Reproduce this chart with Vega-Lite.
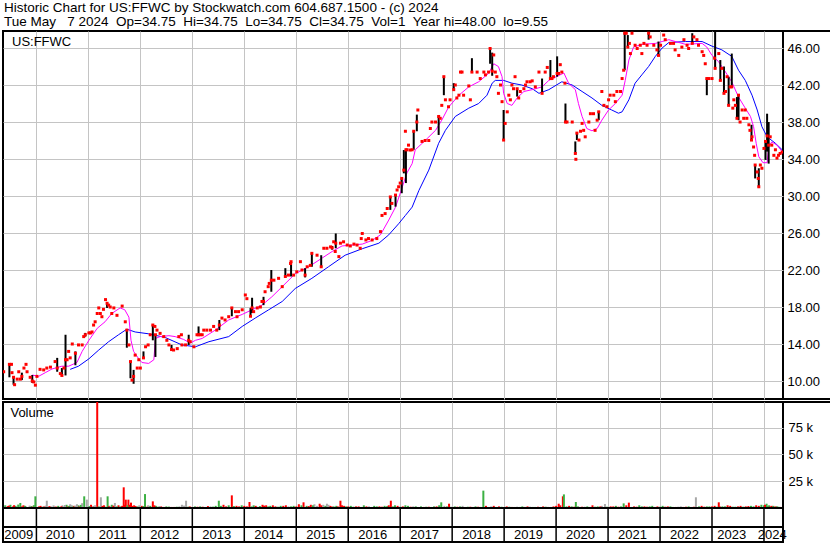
{
  "$schema": "https://vega.github.io/schema/vega-lite/v6.json",
  "background": "white",
  "padding": {"left": 1, "top": 0, "right": 0, "bottom": 0},
  "bounds": "flush",
  "title": {
    "text": "Historic Chart for US:FFWC by Stockwatch.com 604.687.1500 - (c) 2024",
    "subtitle": "Tue May\u00a0\u00a0 7 2024\u00a0 Op=34.75\u00a0 Hi=34.75\u00a0 Lo=34.75\u00a0 Cl=34.75\u00a0 Vol=1\u00a0 Year hi=48.00\u00a0 lo=9.55",
    "anchor": "start", "frame": "group", "font": "Liberation Sans", "fontSize": 13.5, "fontWeight": "normal", "color": "black",
    "subtitleFont": "Liberation Sans", "subtitleFontSize": 13.5, "subtitleColor": "black", "subtitlePadding": 0.5,
    "offset": 1, "dx": 1
  },
  "config": {
    "view": {"stroke": "black", "strokeWidth": 2},
    "font": "Liberation Sans",
    "axis": {"labelFont": "Liberation Sans", "labelFontSize": 13, "labelColor": "black", "gridColor": "#c4c4c4", "gridWidth": 1, "gridOpacity": 1, "ticks": false, "domain": false, "title": null, "minExtent": 0}
  },
  "datasets": {
    "px": [
      {"t":2009.37,"h":11.0,"l":11.0,"c":11.0},{"t":2009.48,"h":11.8,"l":10.4,"c":11.8},{"t":2009.52,"h":11.8,"l":11.8,"c":11.8},{"t":2009.53,"h":10.9,"l":10.9,"c":10.9},
      {"t":2009.56,"h":10.4,"l":9.6,"c":10.4},{"t":2009.58,"h":9.6,"l":9.6,"c":9.6},{"t":2009.63,"h":10.2,"l":10.2,"c":10.2},{"t":2009.66,"h":11.0,"l":11.0,"c":11.0},
      {"t":2009.69,"h":10.2,"l":10.2,"c":10.2},{"t":2009.72,"h":10.9,"l":10.1,"c":10.5},{"t":2009.76,"h":11.4,"l":11.4,"c":11.4},{"t":2009.80,"h":11.8,"l":11.8,"c":11.8},
      {"t":2009.82,"h":11.0,"l":11.0,"c":11.0},{"t":2009.88,"h":10.4,"l":10.4,"c":10.4},{"t":2009.92,"h":10.65,"l":9.8,"c":10.0},{"t":2009.95,"h":9.9,"l":9.9,"c":9.9},
      {"t":2009.98,"h":9.55,"l":9.55,"c":9.55},{"t":2010.01,"h":10.5,"l":10.5,"c":10.5},{"t":2010.07,"h":11.26,"l":11.26,"c":11.26},{"t":2010.14,"h":11.2,"l":11.2,"c":11.2},
      {"t":2010.20,"h":11.4,"l":11.4,"c":11.4},{"t":2010.27,"h":11.5,"l":11.5,"c":11.5},{"t":2010.36,"h":12.1,"l":12.1,"c":12.1},{"t":2010.40,"h":12.5,"l":11.0,"c":11.4},
      {"t":2010.46,"h":10.8,"l":10.8,"c":10.8},{"t":2010.49,"h":11.4,"l":10.6,"c":10.6},{"t":2010.53,"h":11.4,"l":11.4,"c":11.4},{"t":2010.56,"h":15.0,"l":10.6,"c":12.3},
      {"t":2010.59,"h":12.3,"l":12.3,"c":12.3},{"t":2010.62,"h":13.2,"l":13.2,"c":13.2},{"t":2010.65,"h":12.5,"l":12.5,"c":12.5},{"t":2010.69,"h":14.0,"l":14.0,"c":14.0},
      {"t":2010.75,"h":13.2,"l":11.7,"c":13.0},{"t":2010.81,"h":13.9,"l":13.9,"c":13.9},{"t":2010.88,"h":13.9,"l":13.9,"c":13.9},{"t":2010.91,"h":14.8,"l":14.8,"c":14.8},
      {"t":2010.94,"h":15.2,"l":14.8,"c":15.0},{"t":2011.01,"h":15.2,"l":15.2,"c":15.2},{"t":2011.04,"h":15.2,"l":15.2,"c":15.2},{"t":2011.07,"h":15.3,"l":15.3,"c":15.3},
      {"t":2011.10,"h":16.05,"l":16.05,"c":16.05},{"t":2011.13,"h":16.4,"l":16.4,"c":16.4},{"t":2011.17,"h":17.3,"l":17.3,"c":17.3},{"t":2011.20,"h":17.9,"l":17.9,"c":17.9},
      {"t":2011.23,"h":17.3,"l":17.3,"c":17.3},{"t":2011.26,"h":16.95,"l":16.95,"c":16.95},{"t":2011.29,"h":17.75,"l":17.75,"c":17.75},{"t":2011.33,"h":18.8,"l":18.8,"c":18.8},
      {"t":2011.36,"h":18.4,"l":17.9,"c":18.4},{"t":2011.39,"h":18.2,"l":18.2,"c":18.2},{"t":2011.42,"h":18.0,"l":18.0,"c":18.0},{"t":2011.45,"h":17.3,"l":17.3,"c":17.3},
      {"t":2011.49,"h":17.9,"l":17.9,"c":17.9},{"t":2011.55,"h":17.1,"l":17.1,"c":17.1},{"t":2011.65,"h":18.1,"l":18.1,"c":18.1},{"t":2011.71,"h":16.4,"l":16.4,"c":16.4},
      {"t":2011.74,"h":15.5,"l":13.6,"c":15.5},{"t":2011.78,"h":13.9,"l":13.9,"c":13.9},{"t":2011.81,"h":12.1,"l":10.3,"c":12.1},{"t":2011.84,"h":10.1,"l":10.1,"c":10.1},
      {"t":2011.87,"h":11.2,"l":9.7,"c":10.5},{"t":2011.90,"h":12.8,"l":12.8,"c":12.8},{"t":2011.94,"h":11.4,"l":11.4,"c":11.4},{"t":2011.97,"h":12.3,"l":12.3,"c":12.3},
      {"t":2012.00,"h":11.4,"l":11.4,"c":11.4},{"t":2012.06,"h":13.2,"l":12.5,"c":12.5},{"t":2012.10,"h":13.7,"l":13.7,"c":13.7},{"t":2012.15,"h":13.9,"l":13.9,"c":13.9},
      {"t":2012.19,"h":15.0,"l":15.0,"c":15.0},{"t":2012.24,"h":16.05,"l":14.4,"c":16.05},{"t":2012.28,"h":15.9,"l":15.9,"c":15.9},{"t":2012.29,"h":15.0,"l":12.6,"c":15.0},
      {"t":2012.32,"h":15.5,"l":15.5,"c":15.5},{"t":2012.38,"h":15.15,"l":15.15,"c":15.15},{"t":2012.45,"h":14.8,"l":14.8,"c":14.8},{"t":2012.51,"h":14.4,"l":14.4,"c":14.4},
      {"t":2012.55,"h":13.9,"l":13.9,"c":13.9},{"t":2012.60,"h":13.9,"l":13.4,"c":13.4},{"t":2012.64,"h":13.35,"l":13.35,"c":13.35},{"t":2012.71,"h":13.5,"l":13.5,"c":13.5},
      {"t":2012.74,"h":14.8,"l":14.8,"c":14.8},{"t":2012.79,"h":15.0,"l":15.0,"c":15.0},{"t":2012.80,"h":13.9,"l":13.9,"c":13.9},{"t":2012.87,"h":13.9,"l":13.9,"c":13.9},
      {"t":2012.93,"h":15.0,"l":13.9,"c":14.4},{"t":2012.96,"h":14.25,"l":14.25,"c":14.25},{"t":2013.03,"h":13.7,"l":13.7,"c":13.7},{"t":2013.09,"h":15.0,"l":15.0,"c":15.0},
      {"t":2013.12,"h":15.9,"l":15.0,"c":15.0},{"t":2013.15,"h":15.0,"l":15.0,"c":15.0},{"t":2013.19,"h":15.0,"l":15.0,"c":15.0},{"t":2013.22,"h":15.5,"l":15.5,"c":15.5},
      {"t":2013.28,"h":15.5,"l":15.5,"c":15.5},{"t":2013.35,"h":15.5,"l":15.5,"c":15.5},{"t":2013.41,"h":15.9,"l":15.9,"c":15.9},{"t":2013.47,"h":15.5,"l":15.5,"c":15.5},
      {"t":2013.52,"h":16.6,"l":15.5,"c":16.05},{"t":2013.57,"h":16.8,"l":16.8,"c":16.8},{"t":2013.63,"h":16.6,"l":16.6,"c":16.6},{"t":2013.70,"h":16.95,"l":16.95,"c":16.95},
      {"t":2013.76,"h":17.9,"l":17.0,"c":17.9},{"t":2013.83,"h":17.5,"l":17.5,"c":17.5},{"t":2013.86,"h":16.95,"l":16.95,"c":16.95},{"t":2013.89,"h":17.5,"l":17.5,"c":17.5},
      {"t":2013.96,"h":17.7,"l":17.7,"c":17.7},{"t":2014.02,"h":19.3,"l":19.3,"c":19.3},{"t":2014.05,"h":18.9,"l":18.9,"c":18.9},{"t":2014.12,"h":17.9,"l":17.0,"c":17.0},
      {"t":2014.15,"h":19.0,"l":17.35,"c":17.9},{"t":2014.18,"h":17.5,"l":17.5,"c":17.5},{"t":2014.25,"h":17.9,"l":17.9,"c":17.9},{"t":2014.31,"h":18.0,"l":18.0,"c":18.0},
      {"t":2014.34,"h":18.6,"l":18.6,"c":18.6},{"t":2014.37,"h":19.1,"l":18.2,"c":18.6},{"t":2014.40,"h":19.65,"l":19.65,"c":19.65},{"t":2014.46,"h":20.2,"l":20.2,"c":20.2},
      {"t":2014.48,"h":20.55,"l":20.55,"c":20.55},{"t":2014.52,"h":22.0,"l":19.65,"c":20.9},{"t":2014.57,"h":20.9,"l":20.9,"c":20.9},{"t":2014.66,"h":21.1,"l":21.1,"c":21.1},
      {"t":2014.73,"h":20.2,"l":20.2,"c":20.2},{"t":2014.79,"h":22.2,"l":21.3,"c":21.3},{"t":2014.85,"h":21.45,"l":21.45,"c":21.45},{"t":2014.89,"h":22.7,"l":22.7,"c":22.7},
      {"t":2014.90,"h":22.9,"l":21.3,"c":22.9},{"t":2014.95,"h":21.45,"l":21.45,"c":21.45},{"t":2015.01,"h":21.8,"l":21.8,"c":21.8},{"t":2015.08,"h":22.9,"l":22.9,"c":22.9},
      {"t":2015.11,"h":22.0,"l":22.0,"c":22.0},{"t":2015.17,"h":22.2,"l":21.2,"c":21.45},{"t":2015.21,"h":22.35,"l":22.35,"c":22.35},{"t":2015.27,"h":22.5,"l":22.5,"c":22.5},
      {"t":2015.30,"h":23.8,"l":22.35,"c":23.8},{"t":2015.40,"h":23.6,"l":23.6,"c":23.6},{"t":2015.48,"h":23.6,"l":22.35,"c":22.35},{"t":2015.53,"h":24.35,"l":24.35,"c":24.35},
      {"t":2015.59,"h":24.35,"l":24.35,"c":24.35},{"t":2015.66,"h":24.5,"l":24.5,"c":24.5},{"t":2015.69,"h":24.6,"l":24.2,"c":24.4},{"t":2015.72,"h":25.05,"l":25.05,"c":25.05},
      {"t":2015.75,"h":24.0,"l":24.0,"c":24.0},{"t":2015.76,"h":25.95,"l":24.35,"c":24.9},{"t":2015.82,"h":23.45,"l":23.45,"c":23.45},{"t":2015.85,"h":24.9,"l":24.9,"c":24.9},
      {"t":2015.91,"h":25.05,"l":25.05,"c":25.05},{"t":2015.98,"h":24.7,"l":24.7,"c":24.7},{"t":2016.04,"h":24.6,"l":24.6,"c":24.6},{"t":2016.11,"h":24.8,"l":24.8,"c":24.8},
      {"t":2016.17,"h":24.7,"l":24.7,"c":24.7},{"t":2016.23,"h":24.35,"l":24.35,"c":24.35},{"t":2016.25,"h":25.4,"l":25.4,"c":25.4},{"t":2016.27,"h":25.95,"l":25.95,"c":25.95},
      {"t":2016.34,"h":25.25,"l":25.25,"c":25.25},{"t":2016.39,"h":25.4,"l":25.4,"c":25.4},{"t":2016.46,"h":25.25,"l":25.25,"c":25.25},{"t":2016.55,"h":25.4,"l":25.4,"c":25.4},
      {"t":2016.62,"h":26.15,"l":26.15,"c":26.15},{"t":2016.65,"h":27.9,"l":27.9,"c":27.9},{"t":2016.71,"h":28.1,"l":28.1,"c":28.1},{"t":2016.75,"h":28.65,"l":28.65,"c":28.65},
      {"t":2016.81,"h":29.9,"l":28.5,"c":29.9},{"t":2016.84,"h":29.2,"l":29.2,"c":29.2},{"t":2016.91,"h":30.1,"l":28.85,"c":30.1},{"t":2016.94,"h":30.65,"l":30.65,"c":30.65},
      {"t":2016.97,"h":31.0,"l":31.0,"c":31.0},{"t":2017.00,"h":31.4,"l":31.4,"c":31.4},{"t":2017.03,"h":31.9,"l":30.3,"c":31.9},{"t":2017.07,"h":34.97,"l":32.45,"c":32.8},
      {"t":2017.10,"h":37.0,"l":37.0,"c":37.0},{"t":2017.11,"h":35.0,"l":31.4,"c":35.0},{"t":2017.13,"h":35.0,"l":35.0,"c":35.0},{"t":2017.16,"h":35.5,"l":35.5,"c":35.5},
      {"t":2017.19,"h":34.97,"l":34.97,"c":34.97},{"t":2017.23,"h":35.0,"l":35.0,"c":35.0},{"t":2017.26,"h":37.0,"l":35.0,"c":37.0},{"t":2017.32,"h":38.8,"l":37.0,"c":38.0},
      {"t":2017.34,"h":39.3,"l":39.3,"c":39.3},{"t":2017.42,"h":35.9,"l":35.9,"c":35.9},{"t":2017.48,"h":36.0,"l":36.0,"c":36.0},{"t":2017.55,"h":36.0,"l":36.0,"c":36.0},
      {"t":2017.58,"h":37.3,"l":37.3,"c":37.3},{"t":2017.61,"h":38.0,"l":38.0,"c":38.0},{"t":2017.68,"h":38.0,"l":38.0,"c":38.0},{"t":2017.74,"h":38.6,"l":36.6,"c":38.6},
      {"t":2017.77,"h":38.4,"l":38.4,"c":38.4},{"t":2017.80,"h":39.8,"l":39.8,"c":39.8},{"t":2017.84,"h":42.9,"l":40.9,"c":42.9},{"t":2017.87,"h":40.4,"l":40.4,"c":40.4},
      {"t":2017.93,"h":39.65,"l":39.65,"c":39.65},{"t":2017.96,"h":40.4,"l":40.4,"c":40.4},{"t":2018.03,"h":42.2,"l":41.5,"c":41.5},{"t":2018.06,"h":42.0,"l":42.0,"c":42.0},
      {"t":2018.09,"h":40.6,"l":40.6,"c":40.6},{"t":2018.13,"h":40.9,"l":40.9,"c":40.9},{"t":2018.16,"h":43.4,"l":43.4,"c":43.4},{"t":2018.19,"h":43.4,"l":43.4,"c":43.4},
      {"t":2018.22,"h":40.9,"l":40.9,"c":40.9},{"t":2018.32,"h":41.9,"l":41.9,"c":41.9},{"t":2018.35,"h":40.4,"l":40.4,"c":40.4},{"t":2018.38,"h":44.9,"l":43.4,"c":43.4},
      {"t":2018.48,"h":43.4,"l":43.4,"c":43.4},{"t":2018.54,"h":42.7,"l":42.7,"c":42.7},{"t":2018.61,"h":43.4,"l":43.4,"c":43.4},{"t":2018.64,"h":43.1,"l":43.1,"c":43.1},
      {"t":2018.70,"h":43.4,"l":43.4,"c":43.4},{"t":2018.73,"h":45.95,"l":44.3,"c":45.95},{"t":2018.77,"h":45.5,"l":43.0,"c":43.5},{"t":2018.80,"h":45.25,"l":45.25,"c":45.25},
      {"t":2018.83,"h":43.4,"l":43.4,"c":43.4},{"t":2018.86,"h":42.9,"l":42.9,"c":42.9},{"t":2018.89,"h":41.1,"l":41.1,"c":41.1},{"t":2018.93,"h":42.0,"l":42.0,"c":42.0},
      {"t":2018.96,"h":40.2,"l":40.2,"c":40.2},{"t":2018.99,"h":39.3,"l":36.05,"c":36.05},{"t":2019.02,"h":37.85,"l":37.85,"c":37.85},{"t":2019.06,"h":39.1,"l":39.1,"c":39.1},
      {"t":2019.09,"h":40.9,"l":40.9,"c":40.9},{"t":2019.12,"h":40.4,"l":40.4,"c":40.4},{"t":2019.15,"h":42.0,"l":42.0,"c":42.0},{"t":2019.18,"h":41.6,"l":41.6,"c":41.6},
      {"t":2019.21,"h":42.9,"l":42.9,"c":42.9},{"t":2019.25,"h":41.6,"l":40.75,"c":41.6},{"t":2019.28,"h":40.6,"l":40.6,"c":40.6},{"t":2019.31,"h":41.3,"l":41.3,"c":41.3},
      {"t":2019.38,"h":41.6,"l":41.6,"c":41.6},{"t":2019.41,"h":42.0,"l":42.0,"c":42.0},{"t":2019.44,"h":42.35,"l":42.35,"c":42.35},{"t":2019.50,"h":42.35,"l":42.35,"c":42.35},
      {"t":2019.54,"h":42.45,"l":42.45,"c":42.45},{"t":2019.60,"h":41.8,"l":41.8,"c":41.8},{"t":2019.67,"h":43.4,"l":43.4,"c":43.4},{"t":2019.73,"h":42.7,"l":41.1,"c":41.1},
      {"t":2019.79,"h":43.4,"l":43.4,"c":43.4},{"t":2019.83,"h":43.9,"l":43.9,"c":43.9},{"t":2019.89,"h":44.7,"l":42.7,"c":42.7},{"t":2019.92,"h":42.7,"l":42.7,"c":42.7},
      {"t":2019.95,"h":42.9,"l":42.9,"c":42.9},{"t":2020.02,"h":45.1,"l":42.9,"c":43.25},{"t":2020.05,"h":43.25,"l":43.25,"c":43.25},{"t":2020.08,"h":44.2,"l":44.2,"c":44.2},
      {"t":2020.11,"h":43.4,"l":43.4,"c":43.4},{"t":2020.17,"h":42.2,"l":42.2,"c":42.2},{"t":2020.18,"h":40.0,"l":38.0,"c":38.0},{"t":2020.21,"h":38.0,"l":38.0,"c":38.0},
      {"t":2020.31,"h":38.0,"l":38.0,"c":38.0},{"t":2020.37,"h":35.9,"l":34.6,"c":34.6},{"t":2020.38,"h":33.97,"l":33.97,"c":33.97},{"t":2020.40,"h":36.8,"l":36.05,"c":36.8},
      {"t":2020.44,"h":36.05,"l":36.05,"c":36.05},{"t":2020.47,"h":37.0,"l":37.0,"c":37.0},{"t":2020.50,"h":37.85,"l":37.85,"c":37.85},{"t":2020.53,"h":37.1,"l":37.1,"c":37.1},
      {"t":2020.56,"h":36.4,"l":36.4,"c":36.4},{"t":2020.63,"h":38.0,"l":38.0,"c":38.0},{"t":2020.66,"h":38.9,"l":38.9,"c":38.9},{"t":2020.72,"h":38.9,"l":38.9,"c":38.9},
      {"t":2020.75,"h":37.1,"l":37.1,"c":37.1},{"t":2020.79,"h":38.2,"l":38.2,"c":38.2},{"t":2020.82,"h":39.1,"l":38.2,"c":39.1},{"t":2020.88,"h":41.3,"l":41.3,"c":41.3},
      {"t":2020.92,"h":39.8,"l":39.8,"c":39.8},{"t":2020.98,"h":39.65,"l":39.65,"c":39.65},{"t":2021.01,"h":40.4,"l":40.4,"c":40.4},{"t":2021.04,"h":40.9,"l":40.9,"c":40.9},
      {"t":2021.11,"h":40.9,"l":40.9,"c":40.9},{"t":2021.14,"h":40.2,"l":40.2,"c":40.2},{"t":2021.17,"h":41.3,"l":41.3,"c":41.3},{"t":2021.24,"h":41.3,"l":41.3,"c":41.3},
      {"t":2021.27,"h":42.7,"l":42.7,"c":42.7},{"t":2021.30,"h":43.6,"l":43.6,"c":43.6},{"t":2021.32,"h":47.6,"l":43.6,"c":47.6},{"t":2021.35,"h":47.6,"l":47.6,"c":47.6},
      {"t":2021.38,"h":47.4,"l":46.1,"c":46.1},{"t":2021.41,"h":46.5,"l":46.5,"c":46.5},{"t":2021.43,"h":45.4,"l":45.4,"c":45.4},{"t":2021.46,"h":47.6,"l":47.6,"c":47.6},
      {"t":2021.52,"h":46.3,"l":46.3,"c":46.3},{"t":2021.56,"h":45.95,"l":45.95,"c":45.95},{"t":2021.62,"h":46.3,"l":46.3,"c":46.3},{"t":2021.65,"h":45.4,"l":45.4,"c":45.4},
      {"t":2021.69,"h":46.5,"l":46.5,"c":46.5},{"t":2021.75,"h":46.3,"l":46.3,"c":46.3},{"t":2021.78,"h":47.6,"l":46.9,"c":47.6},{"t":2021.81,"h":47.2,"l":47.2,"c":47.2},
      {"t":2021.88,"h":46.3,"l":46.3,"c":46.3},{"t":2021.94,"h":45.8,"l":45.8,"c":45.8},{"t":2021.97,"h":46.7,"l":45.2,"c":45.2},{"t":2022.01,"h":46.3,"l":46.3,"c":46.3},
      {"t":2022.07,"h":47.4,"l":47.4,"c":47.4},{"t":2022.10,"h":46.9,"l":46.9,"c":46.9},{"t":2022.20,"h":46.5,"l":46.5,"c":46.5},{"t":2022.26,"h":46.5,"l":46.5,"c":46.5},
      {"t":2022.29,"h":45.8,"l":45.8,"c":45.8},{"t":2022.36,"h":45.2,"l":45.2,"c":45.2},{"t":2022.42,"h":46.1,"l":46.1,"c":46.1},{"t":2022.46,"h":46.9,"l":46.9,"c":46.9},
      {"t":2022.52,"h":46.3,"l":46.3,"c":46.3},{"t":2022.55,"h":45.95,"l":45.95,"c":45.95},{"t":2022.62,"h":47.6,"l":46.5,"c":46.5},{"t":2022.65,"h":47.2,"l":47.2,"c":47.2},
      {"t":2022.71,"h":46.9,"l":46.9,"c":46.9},{"t":2022.74,"h":46.3,"l":46.3,"c":46.3},{"t":2022.81,"h":45.6,"l":45.6,"c":45.6},{"t":2022.84,"h":45.2,"l":45.2,"c":45.2},
      {"t":2022.87,"h":44.3,"l":44.3,"c":44.3},{"t":2022.90,"h":42.7,"l":40.9,"c":42.7},{"t":2022.94,"h":42.7,"l":42.7,"c":42.7},{"t":2023.00,"h":42.7,"l":42.7,"c":42.7},
      {"t":2023.05,"h":44.9,"l":44.9,"c":44.9},{"t":2023.06,"h":48.0,"l":43.8,"c":43.8},{"t":2023.13,"h":45.4,"l":45.4,"c":45.4},{"t":2023.16,"h":44.7,"l":42.5,"c":42.5},
      {"t":2023.19,"h":43.8,"l":43.8,"c":43.8},{"t":2023.23,"h":44.0,"l":41.1,"c":41.1},{"t":2023.26,"h":41.3,"l":41.3,"c":41.3},{"t":2023.29,"h":42.9,"l":42.9,"c":42.9},
      {"t":2023.32,"h":42.9,"l":39.8,"c":39.8},{"t":2023.35,"h":41.8,"l":41.8,"c":41.8},{"t":2023.38,"h":45.4,"l":41.8,"c":41.8},{"t":2023.40,"h":39.5,"l":39.5,"c":39.5},
      {"t":2023.42,"h":40.4,"l":40.4,"c":40.4},{"t":2023.45,"h":39.8,"l":39.8,"c":39.8},{"t":2023.48,"h":40.7,"l":38.4,"c":38.4},{"t":2023.51,"h":40.9,"l":38.2,"c":40.9},
      {"t":2023.54,"h":38.0,"l":38.0,"c":38.0},{"t":2023.58,"h":39.3,"l":39.3,"c":39.3},{"t":2023.61,"h":38.4,"l":38.4,"c":38.4},{"t":2023.64,"h":39.3,"l":39.3,"c":39.3},
      {"t":2023.67,"h":38.4,"l":38.4,"c":38.4},{"t":2023.71,"h":37.7,"l":37.7,"c":37.7},{"t":2023.73,"h":37.1,"l":37.1,"c":37.1},{"t":2023.76,"h":37.7,"l":36.05,"c":36.05},
      {"t":2023.77,"h":36.4,"l":36.4,"c":36.4},{"t":2023.80,"h":35.3,"l":35.3,"c":35.3},{"t":2023.82,"h":34.4,"l":34.4,"c":34.4},{"t":2023.83,"h":33.35,"l":31.9,"c":33.35},
      {"t":2023.87,"h":32.6,"l":32.6,"c":32.6},{"t":2023.89,"h":31.9,"l":31.9,"c":31.9},{"t":2023.90,"h":33.0,"l":31.0,"c":31.0},{"t":2023.93,"h":33.35,"l":33.35,"c":33.35},
      {"t":2023.96,"h":33.0,"l":33.0,"c":33.0},{"t":2024.00,"h":35.15,"l":35.15,"c":35.15},{"t":2024.03,"h":36.05,"l":33.9,"c":35.9},{"t":2024.06,"h":38.9,"l":34.8,"c":36.5},
      {"t":2024.09,"h":38.0,"l":33.5,"c":35.5},{"t":2024.12,"h":36.4,"l":36.4,"c":36.4},{"t":2024.15,"h":35.5,"l":35.5,"c":35.5},{"t":2024.19,"h":34.4,"l":34.4,"c":34.4},
      {"t":2024.22,"h":35.0,"l":35.0,"c":35.0},{"t":2024.25,"h":34.1,"l":34.1,"c":34.1},{"t":2024.28,"h":34.4,"l":34.4,"c":34.4},{"t":2024.31,"h":34.6,"l":34.6,"c":34.6},
      {"t":2024.35,"h":34.75,"l":34.75,"c":34.75}
    ],
    "maFast": [
      {"t":2009.92,"v":10.65},{"t":2010.04,"v":10.5},{"t":2010.17,"v":10.9},{"t":2010.30,"v":11.3},{"t":2010.49,"v":11.6},{"t":2010.62,"v":11.6},
      {"t":2010.78,"v":12.0},{"t":2010.88,"v":13.2},{"t":2011.01,"v":14.4},{"t":2011.17,"v":15.7},{"t":2011.32,"v":16.4},{"t":2011.45,"v":17.3},
      {"t":2011.61,"v":17.9},{"t":2011.70,"v":17.7},{"t":2011.78,"v":16.9},{"t":2011.82,"v":14.4},{"t":2011.87,"v":13.2},{"t":2011.97,"v":12.4},
      {"t":2012.03,"v":12.0},{"t":2012.16,"v":11.9},{"t":2012.26,"v":12.3},{"t":2012.29,"v":14.6},{"t":2012.38,"v":14.8},{"t":2012.55,"v":14.9},
      {"t":2012.67,"v":14.8},{"t":2012.83,"v":14.5},{"t":2012.96,"v":14.1},{"t":2013.06,"v":14.4},{"t":2013.19,"v":14.6},{"t":2013.44,"v":15.5},
      {"t":2013.70,"v":16.6},{"t":2013.96,"v":17.2},{"t":2014.15,"v":17.7},{"t":2014.34,"v":18.2},{"t":2014.53,"v":19.1},{"t":2014.73,"v":20.2},
      {"t":2014.98,"v":21.6},{"t":2015.24,"v":22.35},{"t":2015.50,"v":23.3},{"t":2015.69,"v":24.0},{"t":2015.88,"v":24.6},{"t":2016.07,"v":24.7},
      {"t":2016.27,"v":24.8},{"t":2016.46,"v":25.2},{"t":2016.62,"v":25.8},{"t":2016.78,"v":27.4},{"t":2016.91,"v":28.8},{"t":2017.03,"v":30.8},
      {"t":2017.13,"v":32.5},{"t":2017.23,"v":33.5},{"t":2017.29,"v":35.0},{"t":2017.48,"v":36.0},{"t":2017.68,"v":37.1},{"t":2017.80,"v":38.2},
      {"t":2017.93,"v":39.6},{"t":2018.13,"v":40.9},{"t":2018.32,"v":41.8},{"t":2018.51,"v":42.35},{"t":2018.70,"v":43.25},{"t":2018.80,"v":44.3},
      {"t":2018.89,"v":44.0},{"t":2018.96,"v":42.9},{"t":2018.99,"v":41.1},{"t":2019.06,"v":40.0},{"t":2019.15,"v":39.8},{"t":2019.25,"v":40.6},
      {"t":2019.38,"v":41.3},{"t":2019.54,"v":41.5},{"t":2019.73,"v":41.8},{"t":2019.86,"v":42.5},{"t":2020.15,"v":43.3},{"t":2020.24,"v":42.2},
      {"t":2020.37,"v":41.5},{"t":2020.43,"v":40.0},{"t":2020.50,"v":38.6},{"t":2020.59,"v":37.3},{"t":2020.69,"v":37.05},{"t":2020.79,"v":37.3},
      {"t":2020.88,"v":38.2},{"t":2021.01,"v":39.3},{"t":2021.14,"v":40.0},{"t":2021.27,"v":40.9},{"t":2021.33,"v":42.5},{"t":2021.40,"v":44.7},
      {"t":2021.49,"v":46.1},{"t":2021.65,"v":46.4},{"t":2021.91,"v":46.5},{"t":2022.04,"v":46.7},{"t":2022.17,"v":46.9},{"t":2022.49,"v":46.4},
      {"t":2022.81,"v":46.5},{"t":2022.90,"v":46.1},{"t":2023.00,"v":45.2},{"t":2023.13,"v":44.5},{"t":2023.26,"v":43.4},{"t":2023.38,"v":42.35},
      {"t":2023.51,"v":40.7},{"t":2023.64,"v":39.5},{"t":2023.74,"v":38.6},{"t":2023.80,"v":37.5},{"t":2023.85,"v":35.7},{"t":2023.90,"v":34.25},
      {"t":2023.98,"v":33.6},{"t":2024.06,"v":33.6},{"t":2024.09,"v":35.3},{"t":2024.15,"v":35.85},{"t":2024.25,"v":35.5},{"t":2024.35,"v":34.8}
    ],
    "maSlow": [
      {"t":2010.65,"v":11.26},{"t":2010.81,"v":11.6},{"t":2011.01,"v":12.4},{"t":2011.20,"v":13.35},{"t":2011.39,"v":14.25},{"t":2011.58,"v":15.0},
      {"t":2011.74,"v":15.6},{"t":2011.90,"v":15.3},{"t":2012.16,"v":15.1},{"t":2012.48,"v":14.7},{"t":2012.80,"v":13.9},{"t":2013.06,"v":13.7},
      {"t":2013.32,"v":14.25},{"t":2013.70,"v":14.8},{"t":2013.96,"v":15.9},{"t":2014.21,"v":16.8},{"t":2014.47,"v":17.7},{"t":2014.73,"v":18.6},
      {"t":2014.98,"v":20.0},{"t":2015.30,"v":21.1},{"t":2015.62,"v":22.35},{"t":2015.94,"v":23.6},{"t":2016.27,"v":24.3},{"t":2016.59,"v":24.9},
      {"t":2016.78,"v":25.8},{"t":2016.97,"v":27.0},{"t":2017.10,"v":27.9},{"t":2017.23,"v":28.8},{"t":2017.36,"v":30.6},{"t":2017.55,"v":32.8},
      {"t":2017.74,"v":35.7},{"t":2017.87,"v":37.1},{"t":2018.06,"v":38.6},{"t":2018.32,"v":39.5},{"t":2018.51,"v":40.0},{"t":2018.67,"v":40.9},
      {"t":2018.77,"v":42.2},{"t":2018.83,"v":42.5},{"t":2018.99,"v":42.5},{"t":2019.15,"v":42.2},{"t":2019.34,"v":42.0},{"t":2019.54,"v":41.6},
      {"t":2019.67,"v":41.1},{"t":2019.86,"v":41.5},{"t":2020.11,"v":42.35},{"t":2020.31,"v":42.0},{"t":2020.50,"v":41.3},{"t":2020.69,"v":40.6},
      {"t":2020.88,"v":39.8},{"t":2021.07,"v":39.3},{"t":2021.20,"v":38.95},{"t":2021.27,"v":39.1},{"t":2021.40,"v":40.4},{"t":2021.52,"v":42.2},
      {"t":2021.65,"v":43.1},{"t":2021.78,"v":44.0},{"t":2021.91,"v":45.1},{"t":2022.04,"v":46.0},{"t":2022.17,"v":46.6},{"t":2022.49,"v":46.7},
      {"t":2022.81,"v":46.7},{"t":2023.00,"v":46.2},{"t":2023.19,"v":45.8},{"t":2023.38,"v":45.1},{"t":2023.51,"v":43.6},{"t":2023.64,"v":42.5},
      {"t":2023.77,"v":40.9},{"t":2023.87,"v":39.3},{"t":2023.96,"v":37.5},{"t":2024.06,"v":36.4},{"t":2024.22,"v":35.7},{"t":2024.35,"v":35.0}
    ],
    "vol": [
      {"t":2009.40,"v":2500,"dir":"up"},{"t":2009.45,"v":1800,"dir":"down"},{"t":2009.50,"v":3000,"dir":"up"},{"t":2009.55,"v":1500,"dir":"down"},
      {"t":2009.60,"v":2000,"dir":"up"},{"t":2009.69,"v":4700,"dir":"up"},{"t":2009.75,"v":2500,"dir":"down"},{"t":2009.80,"v":1500,"dir":"flat"},
      {"t":2009.85,"v":1000,"dir":"down"},{"t":2009.90,"v":1800,"dir":"up"},{"t":2009.98,"v":10900,"dir":"up"},{"t":2010.05,"v":1500,"dir":"down"},
      {"t":2010.12,"v":1200,"dir":"up"},{"t":2010.20,"v":6800,"dir":"flat"},{"t":2010.28,"v":1500,"dir":"flat"},{"t":2010.35,"v":1200,"dir":"down"},
      {"t":2010.42,"v":2000,"dir":"up"},{"t":2010.50,"v":2500,"dir":"flat"},{"t":2010.58,"v":3000,"dir":"up"},{"t":2010.65,"v":3500,"dir":"flat"},
      {"t":2010.72,"v":2000,"dir":"down"},{"t":2010.80,"v":2500,"dir":"up"},{"t":2010.88,"v":4500,"dir":"flat"},{"t":2010.92,"v":10900,"dir":"up"},
      {"t":2010.97,"v":7800,"dir":"flat"},{"t":2011.05,"v":3000,"dir":"down"},{"t":2011.10,"v":2000,"dir":"flat"},{"t":2011.17,"v":105000,"dir":"down"},
      {"t":2011.24,"v":10000,"dir":"flat"},{"t":2011.30,"v":2500,"dir":"down"},{"t":2011.37,"v":10900,"dir":"up"},{"t":2011.45,"v":3000,"dir":"up"},
      {"t":2011.51,"v":4700,"dir":"flat"},{"t":2011.58,"v":2500,"dir":"down"},{"t":2011.62,"v":1500,"dir":"up"},{"t":2011.68,"v":19300,"dir":"down"},
      {"t":2011.72,"v":7800,"dir":"down"},{"t":2011.77,"v":7800,"dir":"down"},{"t":2011.82,"v":5000,"dir":"down"},{"t":2011.88,"v":2500,"dir":"down"},
      {"t":2011.95,"v":1500,"dir":"up"},{"t":2012.03,"v":2000,"dir":"down"},{"t":2012.09,"v":13000,"dir":"up"},{"t":2012.15,"v":2500,"dir":"flat"},
      {"t":2012.24,"v":6200,"dir":"down"},{"t":2012.30,"v":2000,"dir":"up"},{"t":2012.40,"v":1500,"dir":"down"},{"t":2012.50,"v":1500,"dir":"up"},
      {"t":2012.60,"v":1000,"dir":"down"},{"t":2012.70,"v":1200,"dir":"up"},{"t":2012.80,"v":3000,"dir":"flat"},{"t":2012.88,"v":6800,"dir":"flat"},
      {"t":2012.95,"v":1500,"dir":"down"},{"t":2013.05,"v":1500,"dir":"up"},{"t":2013.20,"v":1200,"dir":"down"},{"t":2013.35,"v":1500,"dir":"flat"},
      {"t":2013.45,"v":2000,"dir":"up"},{"t":2013.51,"v":6800,"dir":"up"},{"t":2013.60,"v":3000,"dir":"down"},{"t":2013.70,"v":2500,"dir":"up"},
      {"t":2013.76,"v":11800,"dir":"down"},{"t":2013.85,"v":2000,"dir":"down"},{"t":2013.95,"v":2500,"dir":"up"},{"t":2014.05,"v":1500,"dir":"down"},
      {"t":2014.10,"v":5600,"dir":"down"},{"t":2014.18,"v":2500,"dir":"up"},{"t":2014.25,"v":1200,"dir":"flat"},{"t":2014.35,"v":3000,"dir":"down"},
      {"t":2014.42,"v":2500,"dir":"down"},{"t":2014.50,"v":2000,"dir":"up"},{"t":2014.60,"v":1500,"dir":"down"},{"t":2014.70,"v":2000,"dir":"up"},
      {"t":2014.80,"v":2500,"dir":"down"},{"t":2014.90,"v":1500,"dir":"up"},{"t":2015.05,"v":3500,"dir":"down"},{"t":2015.14,"v":5300,"dir":"down"},
      {"t":2015.20,"v":2000,"dir":"up"},{"t":2015.28,"v":3000,"dir":"down"},{"t":2015.35,"v":3500,"dir":"flat"},{"t":2015.45,"v":4000,"dir":"down"},
      {"t":2015.52,"v":3000,"dir":"flat"},{"t":2015.59,"v":4000,"dir":"flat"},{"t":2015.65,"v":2000,"dir":"down"},{"t":2015.72,"v":1500,"dir":"up"},
      {"t":2015.85,"v":6800,"dir":"down"},{"t":2015.92,"v":2000,"dir":"down"},{"t":2016.05,"v":2000,"dir":"up"},{"t":2016.15,"v":1500,"dir":"down"},
      {"t":2016.30,"v":2500,"dir":"up"},{"t":2016.40,"v":1500,"dir":"flat"},{"t":2016.50,"v":2000,"dir":"up"},{"t":2016.60,"v":1500,"dir":"down"},
      {"t":2016.70,"v":2000,"dir":"up"},{"t":2016.82,"v":6800,"dir":"down"},{"t":2016.90,"v":2500,"dir":"up"},{"t":2017.05,"v":1500,"dir":"down"},
      {"t":2017.15,"v":2000,"dir":"up"},{"t":2017.25,"v":1500,"dir":"flat"},{"t":2017.40,"v":1500,"dir":"up"},{"t":2017.55,"v":1200,"dir":"down"},
      {"t":2017.65,"v":1500,"dir":"up"},{"t":2017.79,"v":5300,"dir":"up"},{"t":2017.85,"v":2000,"dir":"flat"},{"t":2017.94,"v":4000,"dir":"down"},
      {"t":2018.05,"v":1500,"dir":"up"},{"t":2018.20,"v":2000,"dir":"flat"},{"t":2018.35,"v":1200,"dir":"down"},{"t":2018.45,"v":1500,"dir":"up"},
      {"t":2018.60,"v":16200,"dir":"up"},{"t":2018.70,"v":1000,"dir":"flat"},{"t":2018.80,"v":2000,"dir":"down"},{"t":2018.95,"v":1200,"dir":"up"},
      {"t":2019.05,"v":1500,"dir":"down"},{"t":2019.20,"v":1000,"dir":"flat"},{"t":2019.35,"v":1500,"dir":"up"},{"t":2019.45,"v":1500,"dir":"down"},
      {"t":2019.60,"v":1000,"dir":"up"},{"t":2019.75,"v":1500,"dir":"down"},{"t":2019.90,"v":1000,"dir":"flat"},{"t":2020.05,"v":4000,"dir":"down"},
      {"t":2020.13,"v":10900,"dir":"down"},{"t":2020.15,"v":12700,"dir":"up"},{"t":2020.25,"v":2000,"dir":"down"},{"t":2020.30,"v":1500,"dir":"up"},
      {"t":2020.38,"v":5600,"dir":"up"},{"t":2020.50,"v":1200,"dir":"down"},{"t":2020.60,"v":1500,"dir":"up"},{"t":2020.70,"v":2500,"dir":"down"},
      {"t":2020.80,"v":1500,"dir":"up"},{"t":2020.88,"v":2000,"dir":"flat"},{"t":2020.94,"v":3700,"dir":"flat"},{"t":2021.05,"v":1500,"dir":"down"},
      {"t":2021.15,"v":2000,"dir":"up"},{"t":2021.20,"v":1200,"dir":"down"},{"t":2021.30,"v":4300,"dir":"up"},{"t":2021.40,"v":5000,"dir":"down"},
      {"t":2021.50,"v":1500,"dir":"down"},{"t":2021.60,"v":2500,"dir":"up"},{"t":2021.70,"v":1500,"dir":"down"},{"t":2021.85,"v":2000,"dir":"up"},
      {"t":2021.95,"v":1500,"dir":"down"},{"t":2022.05,"v":2000,"dir":"up"},{"t":2022.15,"v":1500,"dir":"down"},{"t":2022.25,"v":1000,"dir":"up"},
      {"t":2022.40,"v":1500,"dir":"flat"},{"t":2022.50,"v":1200,"dir":"down"},{"t":2022.69,"v":10000,"dir":"flat"},{"t":2022.80,"v":2000,"dir":"down"},
      {"t":2022.90,"v":1500,"dir":"up"},{"t":2023.05,"v":2000,"dir":"down"},{"t":2023.13,"v":5300,"dir":"down"},{"t":2023.20,"v":1500,"dir":"up"},
      {"t":2023.30,"v":2500,"dir":"down"},{"t":2023.45,"v":1200,"dir":"up"},{"t":2023.55,"v":2000,"dir":"down"},{"t":2023.65,"v":1500,"dir":"down"},
      {"t":2023.75,"v":2000,"dir":"up"},{"t":2023.85,"v":2500,"dir":"down"},{"t":2023.95,"v":3000,"dir":"up"},{"t":2024.05,"v":4000,"dir":"up"},
      {"t":2024.10,"v":2500,"dir":"up"},{"t":2024.15,"v":2000,"dir":"down"},{"t":2024.25,"v":1500,"dir":"up"},{"t":2024.32,"v":1000,"dir":"down"},
      {"t":2009.42,"v":1200,"dir":"flat"},{"t":2009.47,"v":2200,"dir":"down"},{"t":2009.52,"v":800,"dir":"up"},{"t":2009.57,"v":2600,"dir":"down"},
      {"t":2009.62,"v":1200,"dir":"flat"},{"t":2009.65,"v":3200,"dir":"up"},{"t":2009.72,"v":1500,"dir":"down"},{"t":2009.78,"v":2000,"dir":"up"},
      {"t":2009.83,"v":900,"dir":"down"},{"t":2009.87,"v":2200,"dir":"flat"},{"t":2009.93,"v":1400,"dir":"down"},{"t":2009.95,"v":2600,"dir":"up"},
      {"t":2010.02,"v":1000,"dir":"flat"},{"t":2010.08,"v":2000,"dir":"down"},{"t":2010.10,"v":800,"dir":"up"},{"t":2010.15,"v":1500,"dir":"down"},
      {"t":2010.18,"v":2200,"dir":"flat"},{"t":2010.23,"v":1000,"dir":"up"},{"t":2010.25,"v":1800,"dir":"down"},{"t":2010.31,"v":1000,"dir":"up"},
      {"t":2010.33,"v":2400,"dir":"flat"},{"t":2010.38,"v":1300,"dir":"down"},{"t":2010.45,"v":1000,"dir":"flat"},{"t":2010.48,"v":1600,"dir":"down"},
      {"t":2010.53,"v":1200,"dir":"up"},{"t":2010.55,"v":2800,"dir":"flat"},{"t":2010.61,"v":1500,"dir":"down"},{"t":2010.63,"v":2000,"dir":"up"},
      {"t":2010.68,"v":2600,"dir":"flat"},{"t":2010.70,"v":1400,"dir":"up"},{"t":2010.75,"v":2200,"dir":"flat"},{"t":2010.78,"v":3500,"dir":"flat"},
      {"t":2010.83,"v":1600,"dir":"down"},{"t":2010.85,"v":2900,"dir":"up"},{"t":2011.02,"v":1800,"dir":"up"},{"t":2011.08,"v":1200,"dir":"down"},
      {"t":2011.13,"v":2500,"dir":"flat"},{"t":2011.20,"v":1500,"dir":"up"},{"t":2011.27,"v":2000,"dir":"down"},{"t":2011.33,"v":1200,"dir":"up"},
      {"t":2011.40,"v":2000,"dir":"down"},{"t":2011.42,"v":1500,"dir":"flat"},{"t":2011.48,"v":2200,"dir":"down"},{"t":2011.55,"v":1500,"dir":"up"},
      {"t":2011.65,"v":2000,"dir":"down"},{"t":2011.70,"v":3000,"dir":"down"},{"t":2011.75,"v":2500,"dir":"up"},{"t":2011.80,"v":3000,"dir":"down"},
      {"t":2011.85,"v":2000,"dir":"down"},{"t":2011.91,"v":1800,"dir":"down"},{"t":2011.98,"v":2500,"dir":"flat"},{"t":2012.06,"v":1800,"dir":"up"},
      {"t":2012.12,"v":1200,"dir":"down"},{"t":2012.19,"v":2000,"dir":"up"},{"t":2012.21,"v":1000,"dir":"down"},{"t":2012.27,"v":2500,"dir":"down"},
      {"t":2012.34,"v":1200,"dir":"up"},{"t":2012.37,"v":1800,"dir":"flat"},{"t":2012.45,"v":1000,"dir":"down"},{"t":2012.55,"v":1300,"dir":"up"},
      {"t":2012.65,"v":1000,"dir":"down"},{"t":2012.75,"v":1500,"dir":"flat"},{"t":2012.84,"v":2200,"dir":"flat"},{"t":2012.92,"v":1200,"dir":"up"},
      {"t":2012.98,"v":1000,"dir":"down"},{"t":2013.10,"v":1200,"dir":"down"},{"t":2013.15,"v":1500,"dir":"up"},{"t":2013.25,"v":1000,"dir":"flat"},
      {"t":2013.30,"v":1800,"dir":"down"},{"t":2013.40,"v":1300,"dir":"up"},{"t":2013.55,"v":2000,"dir":"up"},{"t":2013.65,"v":1500,"dir":"down"},
      {"t":2013.80,"v":1800,"dir":"up"},{"t":2013.90,"v":1500,"dir":"down"},{"t":2014.00,"v":2000,"dir":"down"},{"t":2014.14,"v":1500,"dir":"up"},
      {"t":2014.22,"v":2000,"dir":"down"},{"t":2014.30,"v":1800,"dir":"up"},{"t":2014.38,"v":2200,"dir":"down"},{"t":2014.46,"v":1500,"dir":"up"},
      {"t":2014.55,"v":2500,"dir":"down"},{"t":2014.65,"v":1200,"dir":"up"},{"t":2014.75,"v":2000,"dir":"down"},{"t":2014.85,"v":1500,"dir":"flat"},
      {"t":2014.95,"v":2000,"dir":"up"},{"t":2015.00,"v":1500,"dir":"down"},{"t":2015.10,"v":2500,"dir":"up"},{"t":2015.24,"v":1800,"dir":"down"},
      {"t":2015.32,"v":2500,"dir":"up"},{"t":2015.40,"v":2000,"dir":"flat"},{"t":2015.48,"v":2500,"dir":"down"},{"t":2015.56,"v":2000,"dir":"up"},
      {"t":2015.62,"v":3000,"dir":"flat"},{"t":2015.68,"v":1500,"dir":"down"},{"t":2015.77,"v":2000,"dir":"up"},{"t":2015.80,"v":1500,"dir":"down"},
      {"t":2015.88,"v":2500,"dir":"down"},{"t":2015.96,"v":1500,"dir":"up"},{"t":2016.00,"v":1500,"dir":"down"},{"t":2016.10,"v":1200,"dir":"up"},
      {"t":2016.20,"v":1500,"dir":"down"},{"t":2016.25,"v":1000,"dir":"up"},{"t":2016.35,"v":1500,"dir":"down"},{"t":2016.45,"v":1000,"dir":"flat"},
      {"t":2016.55,"v":1500,"dir":"up"},{"t":2016.65,"v":1200,"dir":"down"},{"t":2016.75,"v":1800,"dir":"up"},{"t":2016.78,"v":2500,"dir":"down"},
      {"t":2016.86,"v":1500,"dir":"up"},{"t":2016.95,"v":2000,"dir":"down"},{"t":2017.00,"v":1200,"dir":"up"},{"t":2017.10,"v":2500,"dir":"up"},
      {"t":2017.20,"v":1200,"dir":"down"},{"t":2017.30,"v":1500,"dir":"up"},{"t":2017.35,"v":1000,"dir":"flat"},{"t":2017.45,"v":1000,"dir":"down"},
      {"t":2017.50,"v":1200,"dir":"up"},{"t":2017.60,"v":1000,"dir":"flat"},{"t":2017.70,"v":1500,"dir":"down"},{"t":2017.75,"v":2500,"dir":"up"},
      {"t":2017.90,"v":1500,"dir":"up"},{"t":2017.98,"v":1200,"dir":"flat"},{"t":2018.10,"v":1200,"dir":"down"},{"t":2018.15,"v":1500,"dir":"up"},
      {"t":2018.25,"v":1000,"dir":"flat"},{"t":2018.30,"v":1200,"dir":"up"},{"t":2018.40,"v":1000,"dir":"flat"},{"t":2018.50,"v":1200,"dir":"down"},
      {"t":2018.55,"v":1000,"dir":"up"},{"t":2018.65,"v":2000,"dir":"down"},{"t":2018.75,"v":1500,"dir":"flat"},{"t":2018.85,"v":1000,"dir":"up"},
      {"t":2018.90,"v":1500,"dir":"down"},{"t":2019.00,"v":1000,"dir":"flat"},{"t":2019.10,"v":1200,"dir":"up"},{"t":2019.15,"v":1000,"dir":"down"},
      {"t":2019.25,"v":1200,"dir":"flat"},{"t":2019.30,"v":1000,"dir":"up"},{"t":2019.40,"v":1000,"dir":"down"},{"t":2019.50,"v":1200,"dir":"flat"},
      {"t":2019.55,"v":1000,"dir":"up"},{"t":2019.65,"v":1200,"dir":"down"},{"t":2019.70,"v":1000,"dir":"flat"},{"t":2019.80,"v":1200,"dir":"up"},
      {"t":2019.85,"v":1000,"dir":"down"},{"t":2019.95,"v":1500,"dir":"down"},{"t":2020.00,"v":2000,"dir":"down"},{"t":2020.08,"v":2500,"dir":"down"},
      {"t":2020.20,"v":1500,"dir":"up"},{"t":2020.35,"v":1200,"dir":"down"},{"t":2020.42,"v":1500,"dir":"up"},{"t":2020.45,"v":1000,"dir":"down"},
      {"t":2020.55,"v":1200,"dir":"flat"},{"t":2020.65,"v":1000,"dir":"down"},{"t":2020.75,"v":1200,"dir":"up"},{"t":2020.85,"v":1500,"dir":"down"},
      {"t":2020.98,"v":1200,"dir":"up"},{"t":2021.00,"v":1000,"dir":"flat"},{"t":2021.10,"v":1500,"dir":"down"},{"t":2021.25,"v":1500,"dir":"up"},
      {"t":2021.35,"v":2500,"dir":"down"},{"t":2021.45,"v":1000,"dir":"up"},{"t":2021.55,"v":1200,"dir":"down"},{"t":2021.65,"v":1500,"dir":"up"},
      {"t":2021.75,"v":1200,"dir":"down"},{"t":2021.80,"v":1500,"dir":"up"},{"t":2021.90,"v":1000,"dir":"down"},{"t":2022.00,"v":1200,"dir":"up"},
      {"t":2022.10,"v":1200,"dir":"down"},{"t":2022.20,"v":1500,"dir":"up"},{"t":2022.30,"v":1000,"dir":"down"},{"t":2022.35,"v":1200,"dir":"flat"},
      {"t":2022.45,"v":1000,"dir":"down"},{"t":2022.55,"v":1500,"dir":"up"},{"t":2022.60,"v":1000,"dir":"flat"},{"t":2022.65,"v":1200,"dir":"down"},
      {"t":2022.75,"v":1500,"dir":"up"},{"t":2022.85,"v":1200,"dir":"down"},{"t":2022.95,"v":1500,"dir":"up"},{"t":2023.00,"v":1500,"dir":"down"},
      {"t":2023.10,"v":1200,"dir":"up"},{"t":2023.15,"v":1500,"dir":"down"},{"t":2023.25,"v":1500,"dir":"up"},{"t":2023.35,"v":2000,"dir":"down"},
      {"t":2023.40,"v":1200,"dir":"up"},{"t":2023.50,"v":1500,"dir":"down"},{"t":2023.60,"v":1200,"dir":"up"},{"t":2023.70,"v":1800,"dir":"down"},
      {"t":2023.80,"v":1500,"dir":"up"},{"t":2023.90,"v":2000,"dir":"down"},{"t":2024.00,"v":2500,"dir":"up"},{"t":2024.02,"v":3000,"dir":"down"},
      {"t":2024.08,"v":2000,"dir":"up"},{"t":2024.12,"v":1500,"dir":"down"},{"t":2024.18,"v":2000,"dir":"up"},{"t":2024.22,"v":1500,"dir":"down"},
      {"t":2024.28,"v":1200,"dir":"up"},{"t":2024.35,"v":1000,"dir":"flat"}
    ],
    "years": [
      {"yr":"2009","m":2009.66},{"yr":"2010","m":2010.46,"b":2010},{"yr":"2011","m":2011.47,"b":2011},{"yr":"2012","m":2012.47,"b":2012},
      {"yr":"2013","m":2013.47,"b":2013},{"yr":"2014","m":2014.47,"b":2014},{"yr":"2015","m":2015.47,"b":2015},{"yr":"2016","m":2016.47,"b":2016},
      {"yr":"2017","m":2017.47,"b":2017},{"yr":"2018","m":2018.47,"b":2018},{"yr":"2019","m":2019.47,"b":2019},{"yr":"2020","m":2020.47,"b":2020},
      {"yr":"2021","m":2021.47,"b":2021},{"yr":"2022","m":2022.47,"b":2022},{"yr":"2023","m":2023.38,"b":2023},{"yr":"2024","m":2024.16,"b":2024}
    ]
  },
  "spacing": 3,
  "vconcat": [
    {
      "width": 780,
      "height": 368,
      "layer": [
        {
          "data": {"name": "maSlow"},
          "mark": {"type": "line", "color": "#0000ff", "strokeWidth": 1, "clip": true},
          "encoding": {
            "x": {"field": "t", "type": "quantitative", "scale": {"domain": [2009.357, 2024.366], "nice": false, "zero": false},
                  "axis": {"orient": "bottom", "values": [2010,2011,2012,2013,2014,2015,2016,2017,2018,2019,2020,2021,2022,2023,2024], "labels": false, "grid": true}},
            "y": {"field": "v", "type": "quantitative", "scale": {"domain": [8.054, 47.84], "nice": false, "zero": false},
                  "axis": {"orient": "right", "values": [10,12,14,16,18,20,22,24,26,28,30,32,34,36,38,40,42,44,46], "format": ".2f", "grid": true, "labelPadding": 4}}
          }
        },
        {
          "data": {"name": "maFast"},
          "mark": {"type": "line", "color": "#ff00ff", "strokeWidth": 1, "clip": true},
          "encoding": {
            "x": {"field": "t", "type": "quantitative"},
            "y": {"field": "v", "type": "quantitative"}
          }
        },
        {
          "data": {"name": "px"},
          "transform": [{"filter": "datum.h > datum.l"}],
          "mark": {"type": "rule", "color": "black", "strokeWidth": 2, "clip": true},
          "encoding": {
            "x": {"field": "t", "type": "quantitative"},
            "y": {"field": "l", "type": "quantitative"},
            "y2": {"field": "h"}
          }
        },
        {
          "data": {"name": "px"},
          "mark": {"type": "square", "color": "#ff0000", "size": 9, "opacity": 1, "clip": true},
          "encoding": {
            "x": {"field": "t", "type": "quantitative"},
            "y": {"field": "c", "type": "quantitative"}
          }
        },
        {
          "data": {"values": [{"edge": "top", "y": 47.84}, {"edge": "bottom", "y": 8.054}]},
          "mark": {"type": "rule", "color": "black", "strokeWidth": 2},
          "encoding": {
            "x": {"datum": 2024.366, "type": "quantitative"},
            "x2": {"datum": 2025.31},
            "y": {"field": "y", "type": "quantitative"}
          }
        },
        {
          "data": {"values": [{"label": "US:FFWC"}]},
          "mark": {"type": "text", "align": "left", "baseline": "middle", "fontSize": 13, "color": "black", "font": "Liberation Sans"},
          "encoding": {
            "x": {"datum": 2009.53, "type": "quantitative"},
            "y": {"datum": 46.68, "type": "quantitative"},
            "text": {"field": "label"}
          }
        }
      ]
    },
    {
      "spacing": 0,
      "bounds": "flush",
      "vconcat": [
        {
          "width": 780,
          "height": 106,
          "layer": [
            {
              "data": {"name": "vol"},
              "mark": {"type": "rule", "strokeWidth": 2, "clip": true},
              "encoding": {
                "x": {"field": "t", "type": "quantitative", "scale": {"domain": [2009.357, 2024.366], "nice": false, "zero": false},
                      "axis": {"orient": "bottom", "values": [2010,2011,2012,2013,2014,2015,2016,2017,2018,2019,2020,2021,2022,2023,2024], "labels": false, "grid": true}},
                "y": {"field": "v", "type": "quantitative", "scale": {"domain": [0, 98900], "nice": false},
                      "axis": {"orient": "right", "values": [25000, 50000, 75000], "labelExpr": "datum.value / 1000 + ' k'", "grid": true, "labelPadding": 5}},
                "y2": {"datum": 0},
                "color": {"field": "dir", "type": "nominal", "scale": {"domain": ["up", "down", "flat"], "range": ["#3cb043", "#ff0000", "#a8a8a8"]}, "legend": null}
              }
            },
            {
              "data": {"values": [{"edge": "top"}]},
              "mark": {"type": "rule", "color": "black", "strokeWidth": 2},
              "encoding": {
                "x": {"datum": 2024.366, "type": "quantitative"},
                "x2": {"datum": 2025.31},
                "y": {"datum": 98900, "type": "quantitative"}
              }
            },
            {
              "data": {"values": [{"label": "Volume"}]},
              "mark": {"type": "text", "align": "left", "baseline": "middle", "fontSize": 13, "color": "black", "font": "Liberation Sans"},
              "encoding": {
                "x": {"datum": 2009.50, "type": "quantitative"},
                "y": {"datum": 88600, "type": "quantitative"},
                "text": {"field": "label"}
              }
            }
          ]
        },
        {
          "width": 780,
          "height": 34,
          "data": {"name": "years"},
          "layer": [
            {
              "mark": {"type": "rule", "color": "black", "strokeWidth": 1.5, "clip": true},
              "encoding": {
                "x": {"field": "b", "type": "quantitative", "scale": {"domain": [2009.357, 2024.366], "nice": false, "zero": false}, "axis": null}
              }
            },
            {
              "data": {"values": [{"label": "row"}]},
              "mark": {"type": "rule", "color": "black", "strokeWidth": 2},
              "encoding": {
                "y": {"datum": 15, "type": "quantitative", "scale": {"domain": [0, 34], "nice": false, "zero": false}, "axis": null}
              }
            },
            {
              "mark": {"type": "text", "align": "center", "baseline": "middle", "fontSize": 13, "color": "black", "font": "Liberation Sans"},
              "encoding": {
                "x": {"field": "m", "type": "quantitative"},
                "y": {"datum": 7.5, "type": "quantitative"},
                "text": {"field": "yr"}
              }
            }
          ]
        }
      ]
    }
  ]
}
